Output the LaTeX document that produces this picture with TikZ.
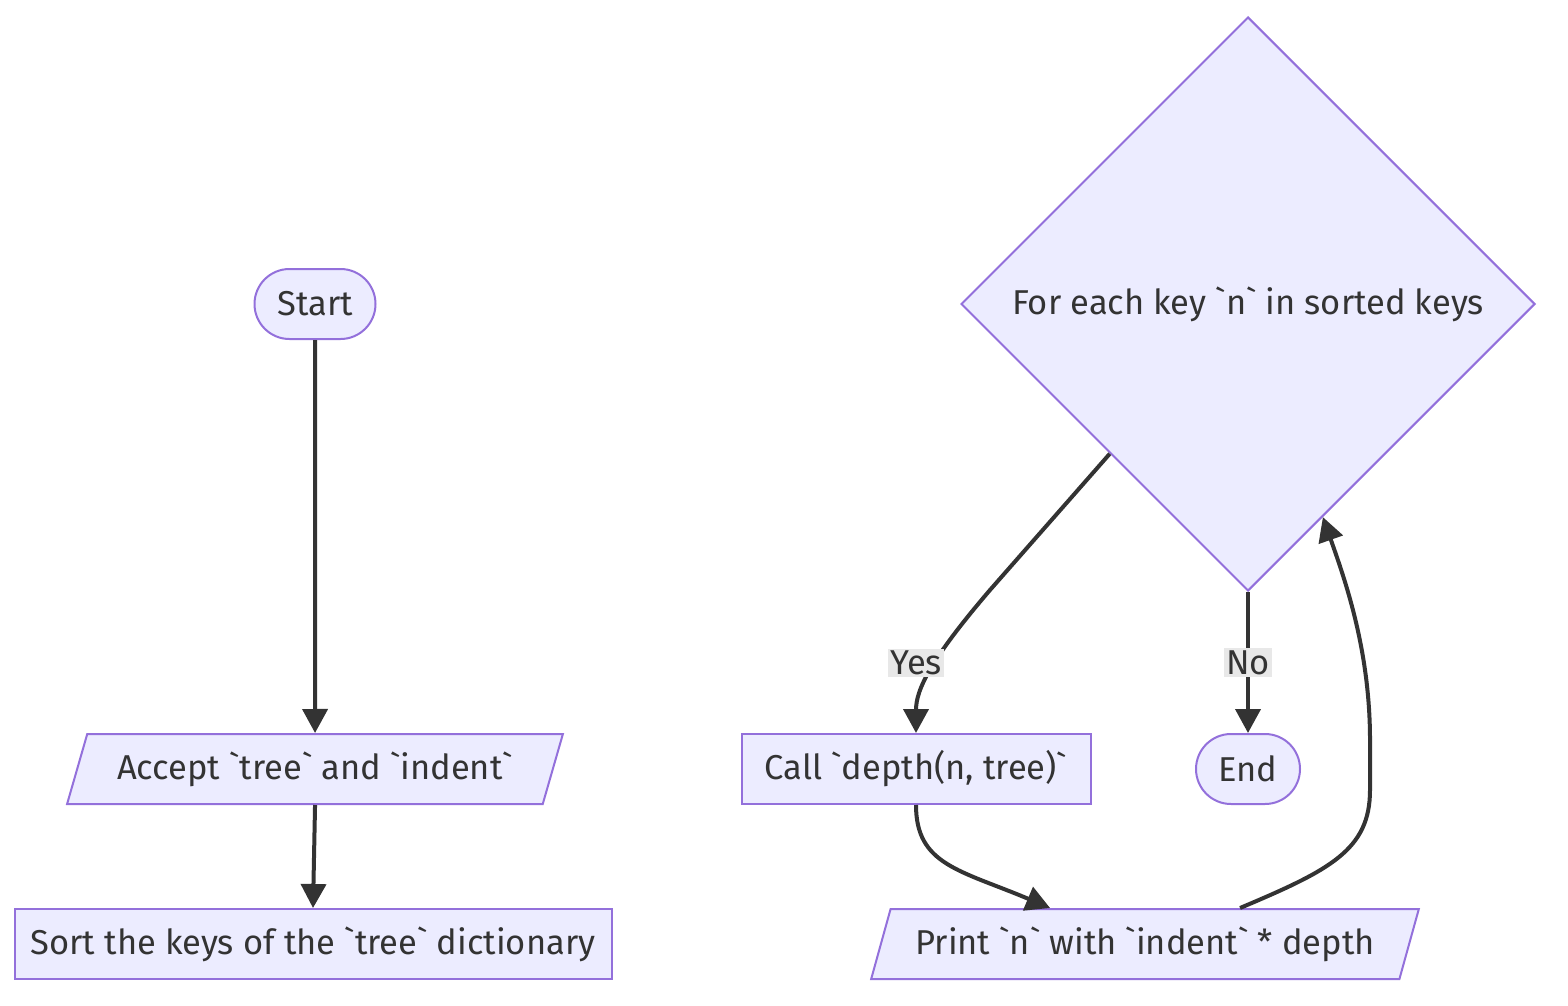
\documentclass[tikz,border=0pt]{standalone}
\usepackage{fontspec}
\setmainfont{Fira Sans}[Ligatures=TeXOff]
\usetikzlibrary{arrows.meta,shapes.geometric,calc}
\definecolor{nodefill}{HTML}{ECECFF}
\definecolor{nodeline}{HTML}{9370DB}
\definecolor{ink}{HTML}{333333}
\definecolor{lblbg}{HTML}{E8E8E8}
\tikzset{
  base/.style={draw=nodeline, fill=nodefill, line width=2pt, text=ink,
    font=\fontsize{34.5}{40}\selectfont, inner sep=0pt},
  stadium/.style={base, rectangle, rounded corners=35pt, minimum height=70pt},
  procbox/.style={base, rectangle, minimum height=70pt},
  iobox/.style={base, trapezium, trapezium left angle=63.4, trapezium right angle=116.6,
    trapezium stretches=true, minimum height=70pt},
  decision/.style={base, diamond, minimum width=574pt, minimum height=574pt},
  flow/.style={draw=ink, line width=4pt, -{Triangle[length=24pt,width=25pt]}},
  lbl/.style={fill=lblbg, text=ink, inner sep=2pt, font=\fontsize{34.5}{40}\selectfont}
}
\begin{document}
\begin{tikzpicture}[x=1pt, y=-1pt]
\useasboundingbox (0,0) rectangle (1568,1006);

% nodes
\node[stadium, minimum width=121pt] (start) at (315,304) {Start};
\node[iobox, minimum width=496pt] (accept) at (315,769) {Accept `tree` and `indent`};
\node[procbox, minimum width=597pt] (sort) at (313,944) {Sort the keys of the `tree` dictionary};
\node[decision] (loop) at (1248,304) {For each key `n` in sorted keys};
\node[procbox, minimum width=349pt] (call) at (916,769) {Call `depth(n, tree)`};
\node[stadium, minimum width=104pt] (end) at (1248,769) {End};
\node[iobox, minimum width=550pt] (print) at (1145,944) {Print `n` with `indent` * depth};

% connectors
\draw[flow] ($(loop.south)!0.48!(loop.west)$) -- (990,590)
  .. controls (930,660) and (916,690) .. (call.north);
\node[lbl] (yes) at (916,663) {Yes};
\draw[flow] (start.south) -- (accept.north);
\draw[flow] (accept.south) -- (sort.north);
\draw[flow] (loop.south) -- node[lbl] (no) {No} (end.north);
\draw[flow] (call.south) .. controls (916,865) and (960,870) .. ($(print.north)+(-95,0)$);
\draw[flow] ($(print.north)+(95,0)$) .. controls (1330,870) and (1370,850) .. (1370,790)
  -- (1370,740) .. controls (1370,650) and (1345,580) .. ($(loop.south)!0.26!(loop.east)$);
\end{tikzpicture}
\end{document}
